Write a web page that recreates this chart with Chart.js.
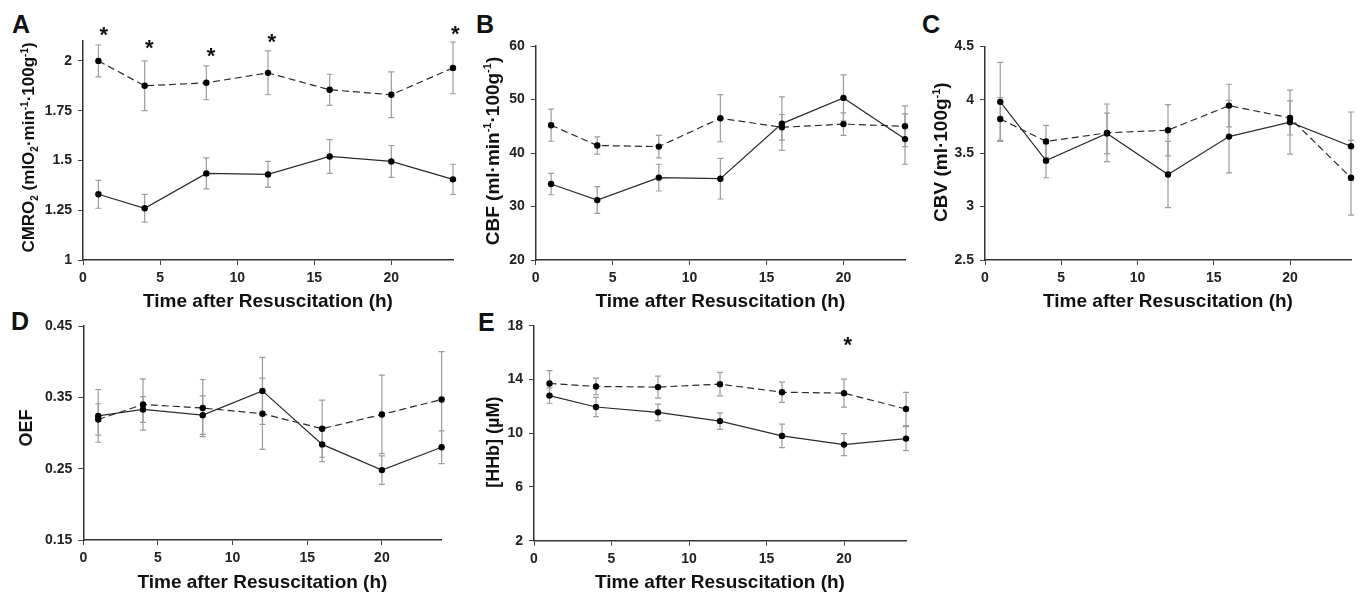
<!DOCTYPE html>
<html>
<head>
<meta charset="utf-8">
<script src="https://cdn.jsdelivr.net/npm/chart.js@4.4.1/dist/chart.umd.min.js"></script>
<style>
  body { margin: 0; background: #fff; width: 1361px; height: 596px; overflow: hidden; position: relative; }
  canvas { position: absolute; }
  .tag { position: absolute; font: bold 25px "Liberation Sans", Arial, sans-serif; line-height: 1; color: #111; }
</style>
</head>
<body>
<div class="tag" style="left:12px;top:12px">A</div>
<div class="tag" style="left:476px;top:12px">B</div>
<div class="tag" style="left:922px;top:12px">C</div>
<div class="tag" style="left:11px;top:309px">D</div>
<div class="tag" style="left:478px;top:310px">E</div>

<canvas id="cA" width="475" height="320" style="left:0;top:0"></canvas>
<canvas id="cB" width="455" height="320" style="left:470px;top:0"></canvas>
<canvas id="cC" width="441" height="320" style="left:920px;top:0"></canvas>
<canvas id="cD" width="475" height="306" style="left:0;top:290px"></canvas>
<canvas id="cE" width="455" height="306" style="left:470px;top:290px"></canvas>

<script>
const FONT = '"Liberation Sans", Arial, sans-serif';

// time points (h) and x tick labels
const hours = [1, 4, 8, 12, 16, 20, 24];
const xTicks = [0, 5, 10, 15, 20];

// A - CMRO2
const cmroTicks = [1, 1.25, 1.5, 1.75, 2];
const cmroSolid = [1.33, 1.26, 1.435, 1.43, 1.52, 1.495, 1.405];
const cmroSolidErr = [0.07, 0.07, 0.078, 0.065, 0.085, 0.08, 0.076];
const cmroDashed = [2.0, 1.875, 1.89, 1.94, 1.855, 1.83, 1.965];
const cmroDashedErr = [0.08, 0.125, 0.085, 0.11, 0.078, 0.115, 0.13];
const cmroStarX = [1.35, 4.3, 8.3, 12.25, 24.15];
const cmroStarY = [2.16, 2.09, 2.05, 2.125, 2.165];

// B - CBF
const cbfTicks = [20, 30, 40, 50, 60];
const cbfSolid = [34.2, 31.2, 35.4, 35.2, 45.5, 50.3, 42.6];
const cbfSolidErr = [2.0, 2.5, 2.5, 3.8, 5.0, 4.3, 4.7];
const cbfDashed = [45.2, 41.4, 41.2, 46.5, 44.8, 45.4, 45.0];
const cbfDashedErr = [3.0, 1.6, 2.1, 4.4, 2.4, 2.1, 3.8];

// C - CBV
const cbvTicks = [2.5, 3, 3.5, 4, 4.5];
const cbvSolid = [3.98, 3.43, 3.685, 3.30, 3.655, 3.79, 3.565];
const cbvSolidErr = [0.37, 0.16, 0.19, 0.31, 0.34, 0.30, 0.32];
const cbvDashed = [3.82, 3.61, 3.69, 3.715, 3.945, 3.83, 3.27];
const cbvDashedErr = [0.20, 0.15, 0.27, 0.24, 0.20, 0.16, 0.35];

// D - OEF
const oefTicks = [0.15, 0.25, 0.35, 0.45];
const oefSolid = [0.324, 0.333, 0.325, 0.359, 0.284, 0.248, 0.280];
const oefSolidErr = [0.037, 0.018, 0.027, 0.047, 0.024, 0.02, 0.023];
const oefDashed = [0.319, 0.340, 0.335, 0.327, 0.306, 0.326, 0.347];
const oefDashedErr = [0.022, 0.036, 0.04, 0.05, 0.04, 0.055, 0.067];

// E - HHb
const hhbTicks = [2, 6, 10, 14, 18];
const hhbSolid = [12.8, 11.95, 11.55, 10.9, 9.8, 9.15, 9.6];
const hhbSolidErr = [0.57, 0.72, 0.62, 0.62, 0.87, 0.82, 0.89];
const hhbDashed = [13.7, 13.48, 13.43, 13.65, 13.05, 12.98, 11.8];
const hhbDashedErr = [0.95, 0.62, 0.82, 0.87, 0.75, 1.04, 1.24];
const hhbStarX = [20.25];
const hhbStarY = [16.95];

// gray error bars under the lines
const errorBars = {
  id: 'errorBars',
  beforeDatasetsDraw(chart) {
    const ctx = chart.ctx, xs = chart.scales.x, ys = chart.scales.y;
    ctx.save();
    ctx.strokeStyle = '#9c9c9c';
    ctx.lineWidth = 1.2;
    chart.data.datasets.forEach(ds => {
      ds.data.forEach((p, i) => {
        const x = xs.getPixelForValue(p.x);
        const y1 = ys.getPixelForValue(p.y + ds.errors[i]);
        const y2 = ys.getPixelForValue(p.y - ds.errors[i]);
        ctx.beginPath();
        ctx.moveTo(x, y1); ctx.lineTo(x, y2);
        ctx.moveTo(x - 3, y1); ctx.lineTo(x + 3, y1);
        ctx.moveTo(x - 3, y2); ctx.lineTo(x + 3, y2);
        ctx.stroke();
      });
    });
    ctx.restore();
  }
};

// asterisks + y title with sub/superscripts
const extras = {
  id: 'extras',
  afterDraw(chart, args, o) {
    const ctx = chart.ctx, xs = chart.scales.x, ys = chart.scales.y, a = chart.chartArea;
    ctx.save();
    ctx.fillStyle = '#111';
    ctx.textAlign = 'center';
    ctx.textBaseline = 'alphabetic';
    ctx.font = 'bold 22px ' + FONT;
    (o.starX || []).forEach((sx, i) => {
      ctx.fillText('*', xs.getPixelForValue(sx), ys.getPixelForValue(o.starY[i]) + 12.5);
    });
    ctx.restore();

    const big = 'bold ' + o.size + 'px ' + FONT;
    const small = 'bold ' + Math.round(o.size * 0.6) + 'px ' + FONT;
    ctx.save();
    ctx.translate(o.titleX, (a.top + a.bottom) / 2 + (o.dy || 0));
    ctx.rotate(-Math.PI / 2);
    ctx.fillStyle = '#111';
    ctx.textAlign = 'left';
    ctx.textBaseline = 'alphabetic';
    let w = 0;
    o.parts.forEach(p => { ctx.font = p[1] ? small : big; w += ctx.measureText(p[0]).width; });
    let cx = -w / 2;
    const base = o.size * 0.36;
    o.parts.forEach(p => {
      ctx.font = p[1] ? small : big;
      let y = base;
      if (p[1] === 'sub') y = base + o.size * 0.22;
      if (p[1] === 'sup') y = base - o.size * 0.38;
      ctx.fillText(p[0], cx, y);
      cx += ctx.measureText(p[0]).width;
    });
    ctx.restore();
  }
};

function pts(vals) {
  return hours.map((h, i) => ({ x: h, y: vals[i] }));
}

function makePanel(id, p) {
  const tickFont = { family: FONT, size: 14, weight: 'bold' };
  const lineStyle = { borderColor: '#2b2b2b', borderWidth: 1.2, pointRadius: 3.2, pointBackgroundColor: '#000',
    pointBorderWidth: 0, clip: false, tension: 0, fill: false };
  new Chart(document.getElementById(id), {
    type: 'line',
    data: {
      datasets: [
        Object.assign({ data: pts(p.solid), errors: p.solidErr }, lineStyle),
        Object.assign({ data: pts(p.dashed), errors: p.dashedErr, borderDash: [7, 4] }, lineStyle)
      ]
    },
    options: {
      responsive: false,
      animation: false,
      devicePixelRatio: 1,
      layout: { padding: { top: p.padTop, right: p.padRight, left: 0, bottom: 0 } },
      plugins: {
        legend: { display: false },
        tooltip: { enabled: false },
        extras: { starX: p.starX, starY: p.starY, parts: p.parts, size: p.titleSize, titleX: p.titleX, dy: p.dy }
      },
      scales: {
        x: {
          type: 'linear', min: 0, max: 24,
          afterBuildTicks: s => { s.ticks = xTicks.map(v => ({ value: v })); },
          afterFit: s => { s.height = p.xH; },
          ticks: { font: tickFont, color: '#222', padding: 5, maxRotation: 0, callback: v => String(v) },
          grid: { drawOnChartArea: false, drawTicks: true, tickLength: 5, color: '#444' },
          border: { color: '#333', width: 1.5 },
          title: { display: true, text: 'Time after Resuscitation (h)', color: '#111',
            font: { family: FONT, size: 19, weight: 'bold' }, padding: { top: 0, bottom: p.xTitlePad } }
        },
        y: {
          type: 'linear', min: p.yMin, max: p.yMax,
          afterBuildTicks: s => { s.ticks = p.yTicks.map(v => ({ value: v })); },
          afterFit: s => { s.width = p.yW; },
          ticks: { font: tickFont, color: '#222', padding: 6, callback: v => String(v) },
          grid: { drawOnChartArea: false, drawTicks: true, tickLength: 5, color: '#444' },
          border: { color: '#333', width: 1.5 }
        }
      }
    },
    plugins: [errorBars, extras]
  });
}

makePanel('cA', {
  yMin: 1, yMax: 2.1, yTicks: cmroTicks, solid: cmroSolid, solidErr: cmroSolidErr,
  dashed: cmroDashed, dashedErr: cmroDashedErr, starX: cmroStarX, starY: cmroStarY,
  padTop: 41, padRight: 22, yW: 83, xH: 60, xTitlePad: 6.6, titleX: 28, titleSize: 17, dy: -3,
  parts: [['CMRO'], ['2', 'sub'], [' (mlO'], ['2', 'sub'], ['\u00b7min'], ['-1', 'sup'], ['\u00b7100g'], ['-1', 'sup'], [')']]
});
makePanel('cB', {
  yMin: 20, yMax: 60, yTicks: cbfTicks, solid: cbfSolid, solidErr: cbfSolidErr,
  dashed: cbfDashed, dashedErr: cbfDashedErr,
  padTop: 46, padRight: 20, yW: 65.7, xH: 60, xTitlePad: 6.6, titleX: 21.7, titleSize: 19, dy: -2,
  parts: [['CBF (ml\u00b7min'], ['-1', 'sup'], ['\u00b7100g'], ['-1', 'sup'], [')']]
});
makePanel('cC', {
  yMin: 2.5, yMax: 4.5, yTicks: cbvTicks, solid: cbvSolid, solidErr: cbvSolidErr,
  dashed: cbvDashed, dashedErr: cbvDashedErr,
  padTop: 46.3, padRight: 10, yW: 65, xH: 60, xTitlePad: 6.6, titleX: 20, titleSize: 19, dy: -1,
  parts: [['CBV (ml\u00b7100g'], ['-1', 'sup'], [')']]
});
makePanel('cD', {
  yMin: 0.15, yMax: 0.45, yTicks: oefTicks, solid: oefSolid, solidErr: oefSolidErr,
  dashed: oefDashed, dashedErr: oefDashedErr,
  padTop: 36, padRight: 33.4, yW: 83.3, xH: 56, xTitlePad: 1.6, titleX: 25.7, titleSize: 18, dy: -5,
  parts: [['OEF']]
});
makePanel('cE', {
  yMin: 2, yMax: 18, yTicks: hhbTicks, solid: hhbSolid, solidErr: hhbSolidErr,
  dashed: hhbDashed, dashedErr: hhbDashedErr, starX: hhbStarX, starY: hhbStarY,
  padTop: 35.7, padRight: 19, yW: 64, xH: 55.3, xTitlePad: 1.6, titleX: 23, titleSize: 18, dy: 9,
  parts: [['[HHb] (\u00b5M)']]
});
</script>
</body>
</html>
